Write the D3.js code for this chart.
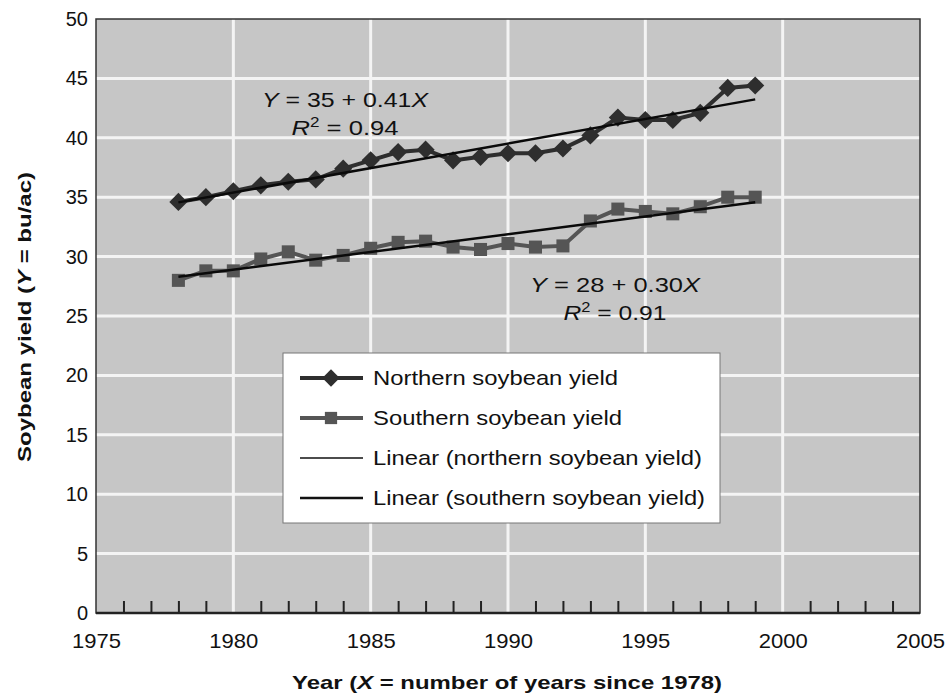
<!DOCTYPE html>
<html>
<head>
<meta charset="utf-8">
<script src="https://cdn.jsdelivr.net/npm/d3@7"></script>
<style>
  body { margin: 0; background: #fff; }
  text { font-family: "Liberation Sans", Arial, sans-serif; fill: #111; }
</style>
</head>
<body>
<div id="chartContainer"></div>
<script>
var width = 951;
var height = 697;

// data
var years = [1978, 1979, 1980, 1981, 1982, 1983, 1984, 1985, 1986, 1987, 1988,
             1989, 1990, 1991, 1992, 1993, 1994, 1995, 1996, 1997, 1998, 1999];
var northern = [34.6, 35.0, 35.5, 36.0, 36.3, 36.5, 37.4, 38.1, 38.8, 39.0, 38.1,
                38.4, 38.7, 38.7, 39.1, 40.2, 41.7, 41.5, 41.5, 42.1, 44.2, 44.4];
var southern = [28.0, 28.8, 28.8, 29.8, 30.4, 29.7, 30.1, 30.7, 31.2, 31.3, 30.8,
                30.6, 31.1, 30.8, 30.9, 33.0, 34.0, 33.8, 33.6, 34.2, 35.0, 35.0];
var xTicks = [1975, 1980, 1985, 1990, 1995, 2000, 2005];
var yTicks = [0, 5, 10, 15, 20, 25, 30, 35, 40, 45, 50];
var legendLabels = ["Northern soybean yield", "Southern soybean yield",
                    "Linear (northern soybean yield)", "Linear (southern soybean yield)"];

var svg = d3.select('#chartContainer')
    .append('svg')
    .attr("width", width)
    .attr("height", height);

var xScale = d3.scaleLinear().domain([1975, 2005]).range([96, 920]);
var yScale = d3.scaleLinear().domain([0, 50]).range([613, 19]);

// plot background
svg.append('rect')
  .attr('x', xScale(1975)).attr('y', yScale(50))
  .attr('width', xScale(2005) - xScale(1975))
  .attr('height', yScale(0) - yScale(50))
  .attr('fill', '#c6c6c6');

// white grid
var grid = svg.append('g');
grid.selectAll('.hg').data(yTicks.filter(d => d > 0 && d < 50)).enter()
  .append('line')
  .attr('x1', xScale(1975)).attr('x2', xScale(2005))
  .attr('y1', d => yScale(d)).attr('y2', d => yScale(d))
  .attr('stroke', '#f4f4f4').attr('stroke-width', 3);
grid.selectAll('.vg').data(xTicks.filter(d => d > 1975 && d < 2005)).enter()
  .append('line')
  .attr('x1', d => xScale(d)).attr('x2', d => xScale(d))
  .attr('y1', yScale(0)).attr('y2', yScale(50))
  .attr('stroke', '#f4f4f4').attr('stroke-width', 3);

// minor year ticks along the bottom
var minorYears = d3.range(1976, 2005).filter(d => d % 5 != 0);
var minorAxis = d3.axisBottom(xScale).tickValues(minorYears).tickSize(-12).tickFormat("");
var minorGroup = svg.append('g').attr("transform", "translate(0," + yScale(0) + ")");
minorAxis(minorGroup);
minorGroup.select('.domain').remove();
minorGroup.selectAll('line').attr('stroke', '#222').attr('stroke-width', 2);

// plot frame
svg.append('rect')
  .attr('x', xScale(1975)).attr('y', yScale(50))
  .attr('width', xScale(2005) - xScale(1975))
  .attr('height', yScale(0) - yScale(50))
  .attr('fill', 'none').attr('stroke', '#333').attr('stroke-width', 1.5);
svg.append('line')
  .attr('x1', xScale(1975)).attr('x2', xScale(2005))
  .attr('y1', yScale(0)).attr('y2', yScale(0))
  .attr('stroke', '#222').attr('stroke-width', 2.5);

// axes
var xAxisGroup = svg.append('g').attr("transform", "translate(0," + yScale(0) + ")");
var xAxis = d3.axisBottom(xScale).tickValues(xTicks).tickSize(0).tickPadding(20).tickFormat(d3.format("d"));
xAxis(xAxisGroup);
xAxisGroup.select('.domain').remove();
xAxisGroup.selectAll('text')
  .style('font-size', '21px').style('font-family', '"Liberation Sans", Arial, sans-serif')
  .attr('fill', '#111')
  .attr('textLength', 49).attr('lengthAdjust', 'spacingAndGlyphs');

var yAxisGroup = svg.append('g').attr("transform", "translate(" + xScale(1975) + ",0)");
var yAxis = d3.axisLeft(yScale).tickValues(yTicks).tickSize(0).tickPadding(8);
yAxis(yAxisGroup);
yAxisGroup.select('.domain').remove();
yAxisGroup.selectAll('text').style('font-size', '20px').style('font-family', '"Liberation Sans", Arial, sans-serif').attr('fill', '#111');

// regression from the series
function fit(xs, ys) {
  var mx = d3.mean(xs), my = d3.mean(ys);
  var num = d3.sum(xs, (x, i) => (x - mx) * (ys[i] - my));
  var den = d3.sum(xs, x => (x - mx) * (x - mx));
  var b = num / den;
  return {a: my - b * mx, b: b};
}

var lineFunc = d3.line().x(d => xScale(d[0])).y(d => yScale(d[1]));
var northPts = years.map((y, i) => [y, northern[i]]);
var southPts = years.map((y, i) => [y, southern[i]]);

var series = svg.append('g');
series.append('path').attr('d', lineFunc(southPts))
  .attr('fill', 'none').attr('stroke', '#555').attr('stroke-width', 4);
series.selectAll('.sq').data(southPts).enter().append('path')
  .attr('d', d3.symbol().type(d3.symbolSquare).size(170))
  .attr('transform', d => "translate(" + xScale(d[0]) + "," + yScale(d[1]) + ")")
  .attr('fill', '#555');

series.append('path').attr('d', lineFunc(northPts))
  .attr('fill', 'none').attr('stroke', '#2e2e2e').attr('stroke-width', 4);
series.selectAll('.dm').data(northPts).enter().append('path')
  .attr('d', d3.symbol().type(d3.symbolSquare).size(165))
  .attr('transform', d => "translate(" + xScale(d[0]) + "," + yScale(d[1]) + ") rotate(45)")
  .attr('fill', '#2e2e2e');

// trend lines
[northern, southern].forEach(function(vals) {
  var f = fit(years, vals);
  var x0 = years[0], x1 = years[years.length - 1];
  series.append('path')
    .attr('d', lineFunc([[x0, f.a + f.b * x0], [x1, f.a + f.b * x1]]))
    .attr('fill', 'none').attr('stroke', '#0a0a0a').attr('stroke-width', 2.5);
});

// equation labels
function equation(cx, y, c, m, r2, w1, w2) {
  var t1 = svg.append('text').attr('x', cx).attr('y', y).attr('text-anchor', 'middle')
    .style('font-size', '21px').attr('textLength', w1).attr('lengthAdjust', 'spacingAndGlyphs');
  t1.append('tspan').style('font-style', 'italic').text('Y');
  t1.append('tspan').text(' = ' + c + ' + ' + m);
  t1.append('tspan').style('font-style', 'italic').text('X');
  var t2 = svg.append('text').attr('x', cx).attr('y', y + 28).attr('text-anchor', 'middle')
    .style('font-size', '21px').attr('textLength', w2).attr('lengthAdjust', 'spacingAndGlyphs');
  t2.append('tspan').style('font-style', 'italic').text('R');
  t2.append('tspan').attr('dy', -8).style('font-size', '14px').text('2');
  t2.append('tspan').attr('dy', 8).text(' = ' + r2);
}
equation(345, 107, '35', '0.41', '0.94', 166, 107);
equation(615, 292, '28', '0.30', '0.91', 170, 103);

// legend
var legend = svg.append('g');
legend.append('rect')
  .attr('x', 283).attr('y', 353).attr('width', 437).attr('height', 170)
  .attr('fill', '#fff').attr('stroke', '#777').attr('stroke-width', 1);
var rowY = [378, 418, 458, 498];
var labelWidths = [245, 249, 329, 332];
var lineStyles = [
  {stroke: '#2e2e2e', w: 4}, {stroke: '#555', w: 4},
  {stroke: '#111', w: 1.5}, {stroke: '#111', w: 2.5}
];
legendLabels.forEach(function(lbl, i) {
  legend.append('line')
    .attr('x1', 300).attr('x2', 363).attr('y1', rowY[i]).attr('y2', rowY[i])
    .attr('stroke', lineStyles[i].stroke).attr('stroke-width', lineStyles[i].w);
  if (i == 0) {
    legend.append('path').attr('d', d3.symbol().type(d3.symbolSquare).size(150))
      .attr('transform', "translate(331," + rowY[i] + ") rotate(45)").attr('fill', '#2e2e2e');
  } else if (i == 1) {
    legend.append('path').attr('d', d3.symbol().type(d3.symbolSquare).size(150))
      .attr('transform', "translate(331," + rowY[i] + ")").attr('fill', '#555');
  }
  legend.append('text')
    .attr('x', 373).attr('y', rowY[i]).attr('dy', '0.35em')
    .style('font-size', '21px')
    .attr('textLength', labelWidths[i]).attr('lengthAdjust', 'spacingAndGlyphs')
    .text(lbl);
});

// axis titles
var xt = svg.append('text').attr('x', 507).attr('y', 689).attr('text-anchor', 'middle')
  .style('font-size', '19px').style('font-weight', 'bold')
  .attr('textLength', 430).attr('lengthAdjust', 'spacingAndGlyphs');
xt.append('tspan').text('Year (');
xt.append('tspan').style('font-style', 'italic').text('X');
xt.append('tspan').text(' = number of years since 1978)');

var yt = svg.append('text').attr('transform', 'translate(31,317) rotate(-90)').attr('text-anchor', 'middle')
  .style('font-size', '19px').style('font-weight', 'bold')
  .attr('textLength', 290).attr('lengthAdjust', 'spacingAndGlyphs');
yt.append('tspan').text('Soybean yield (');
yt.append('tspan').style('font-style', 'italic').text('Y');
yt.append('tspan').text(' = bu/ac)');
</script>
</body>
</html>
